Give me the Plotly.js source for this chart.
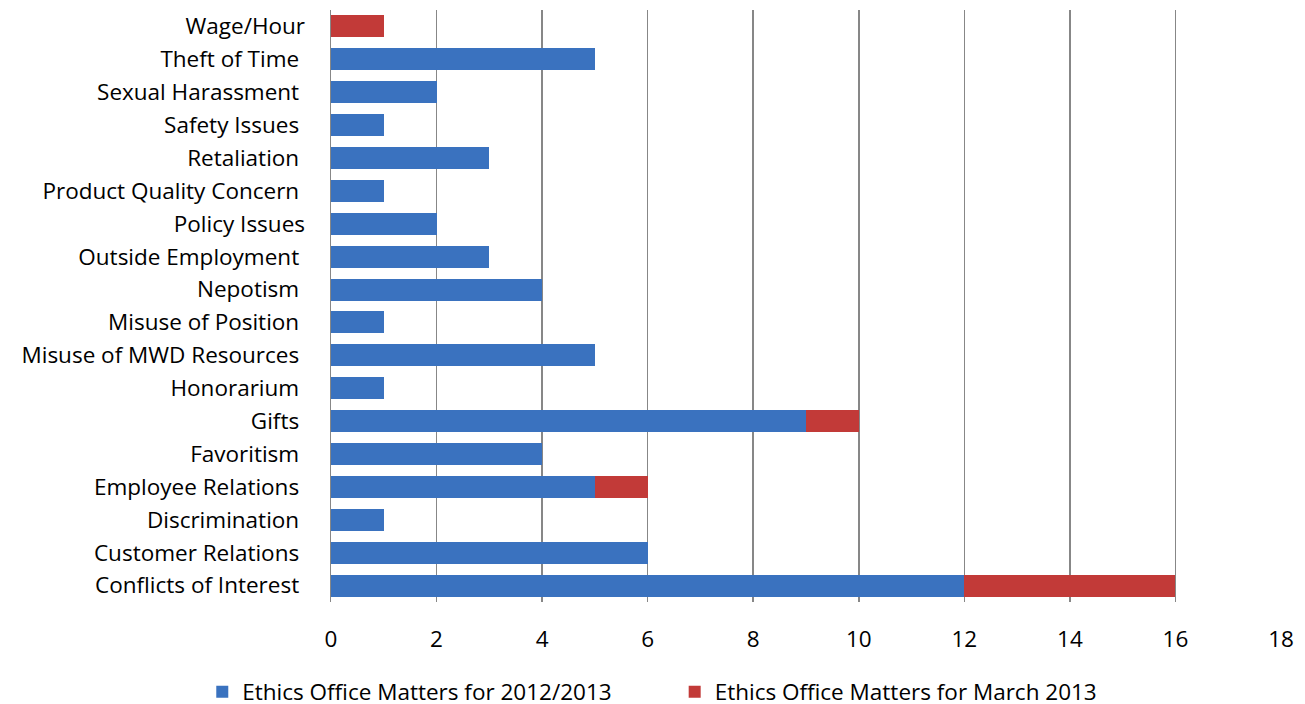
<!DOCTYPE html>
<html><head><meta charset="utf-8">
<script src="https://cdn.plot.ly/plotly-3.0.1.min.js"></script>
<style>html,body{margin:0;padding:0;background:#fff}#chart{width:1305px;height:704px}</style>
</head><body><div id="chart"></div>
<script>
const categories = ["Conflicts of Interest","Customer Relations","Discrimination","Employee Relations","Favoritism","Gifts","Honorarium","Misuse of MWD Resources","Misuse of Position","Nepotism","Outside Employment","Policy Issues","Product Quality Concern","Retaliation","Safety Issues","Sexual Harassment","Theft of Time","Wage/Hour"];
const tickLabels = ["Conflicts of Interest ","Customer Relations ","Discrimination ","Employee Relations ","Favoritism ","Gifts ","Honorarium ","Misuse of MWD Resources ","Misuse of Position ","Nepotism ","Outside Employment ","Policy Issues","Product Quality Concern ","Retaliation ","Safety Issues ","Sexual Harassment ","Theft of Time ","Wage/Hour"];
const series1Name = "Ethics Office Matters for 2012/2013";
const series1 = [12,6,1,5,4,9,1,5,1,4,3,2,1,3,1,2,5,0];
const series2Name = "Ethics Office Matters for March 2013";
const series2 = [4,0,0,1,0,1,0,0,0,0,0,0,0,0,0,0,0,1];
const xTicks = [0,2,4,6,8,10,12,14,16,18];

const font = "'Open Sans', sans-serif";
const data = [
  {type:"bar", orientation:"h", y:categories, x:series1, name:series1Name, legend:"legend",
   marker:{color:"#3A72BF", line:{width:0}}},
  {type:"bar", orientation:"h", y:categories, x:series2, name:series2Name, legend:"legend2",
   marker:{color:"#C23A38", line:{width:0}}}
];
const legendBase = {orientation:"h", xref:"container", xanchor:"left", y:0.017, yref:"container", yanchor:"middle",
  font:{family:font, size:22.5}, itemwidth:30, bgcolor:"rgba(0,0,0,0)"};
const layout = {
  width:1305, height:704,
  barmode:"stack", bargap:0.33,
  margin:{l:331, r:24, t:10, b:102, autoexpand:false},
  paper_bgcolor:"#fff", plot_bgcolor:"#fff",
  font:{family:font, size:22.5, color:"#000"},
  xaxis:{range:[0,18], tickvals:xTicks, showgrid:true, gridcolor:"#878787", gridwidth:1.5,
         zeroline:false, showline:false, ticks:"", ticklabelstandoff:21, fixedrange:true, automargin:false},
  yaxis:{type:"category", categoryorder:"array", categoryarray:categories,
         tickvals:categories, ticktext:tickLabels, automargin:false,
         showline:true, linecolor:"#878787", linewidth:1.5, showgrid:false, ticks:"",
         ticklabelstandoff:20, fixedrange:true},
  showlegend:true,
  legend:Object.assign({}, legendBase, {x:0.155}),
  legend2:Object.assign({}, legendBase, {x:0.517})
};
Plotly.newPlot("chart", data, layout, {displayModeBar:false, staticPlot:true});
</script></body></html>
